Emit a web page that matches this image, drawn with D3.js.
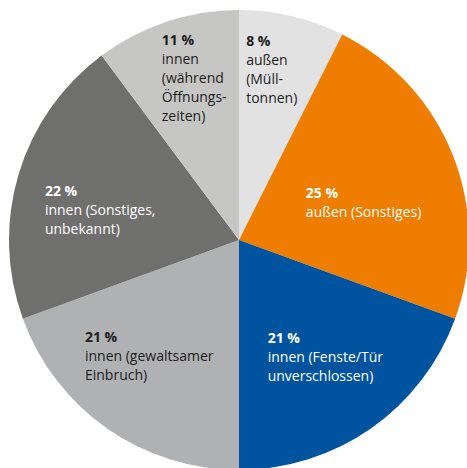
<!DOCTYPE html>
<html>
<head>
<meta charset="utf-8">
<script src="https://cdn.jsdelivr.net/npm/d3@7"></script>
<style>
  body { margin: 0; background: #fff; }
  text { font-family: "Open Sans", sans-serif; }
</style>
</head>
<body>
<svg id="chart" width="467" height="468"></svg>
<script>
// categories, clockwise from 12 o'clock
const categories = [
  'außen (Mülltonnen)',
  'außen (Sonstiges)',
  'innen (Fenste/Tür unverschlossen)',
  'innen (gewaltsamer Einbruch)',
  'innen (Sonstiges, unbekannt)',
  'innen (während Öffnungszeiten)'
];
const values = [8, 25, 21, 21, 22, 11];
const labelLines = [
  ['außen', '(Müll-', 'tonnen)'],
  ['außen (Sonstiges)'],
  ['innen (Fenste/Tür', 'unverschlossen)'],
  ['innen (gewaltsamer', 'Einbruch)'],
  ['innen (Sonstiges,', 'unbekannt)'],
  ['innen', '(während', 'Öffnungs-', 'zeiten)']
];

const colors = ['#e2e2e2', '#ef7d00', '#00539f', '#b0b1b3', '#6f6f6e', '#c6c6c5'];
const textColors = ['#1d1d1b', '#ffffff', '#ffffff', '#1d1d1b', '#ffffff', '#1d1d1b'];
// label placement: distance from centre (share of radius) and turn off the mid angle (deg)
const labelRadius = [0.757, 0.566, 0.632, 0.636, 0.618, 0.732];
const labelTurn = [-2.5, 4.8, -1.5, 2.8, -4.3, 2.9];

const cx = 239;
const cy = 240;
const radius = 230;
const lineHeight = 19;

const svg = d3.select('#chart');
const g = svg.append('g').attr('transform', `translate(${cx},${cy})`);

const pie = d3.pie().sort(null).value(d => d.value);
const arcs = pie(categories.map((c, i) => ({ name: c, value: values[i], idx: i })));

const arc = d3.arc().innerRadius(0).outerRadius(radius);

g.selectAll('path.slice')
  .data(arcs)
  .enter().append('path')
  .attr('class', 'slice')
  .attr('d', arc)
  .attr('fill', d => colors[d.data.idx]);

arcs.forEach(d => {
  const i = d.data.idx;
  const r = radius * labelRadius[i];
  const a = (d.startAngle + d.endAngle) / 2 + labelTurn[i] * Math.PI / 180;
  const lx = r * Math.sin(a);
  const ly = -r * Math.cos(a);
  const lines = [values[i] + ' %'].concat(labelLines[i]);

  const t = g.append('text')
    .attr('fill', textColors[i])
    .style('font-size', '14px');

  lines.forEach((line, k) => {
    t.append('tspan')
      .attr('x', 0)
      .attr('y', k * lineHeight)
      .style('font-weight', k === 0 ? 700 : 400)
      .text(line);
  });

  const bb = t.node().getBBox();
  t.attr('transform', `translate(${lx - bb.width / 2 - bb.x},${ly - bb.height / 2 - bb.y})`);
});
</script>
</body>
</html>
